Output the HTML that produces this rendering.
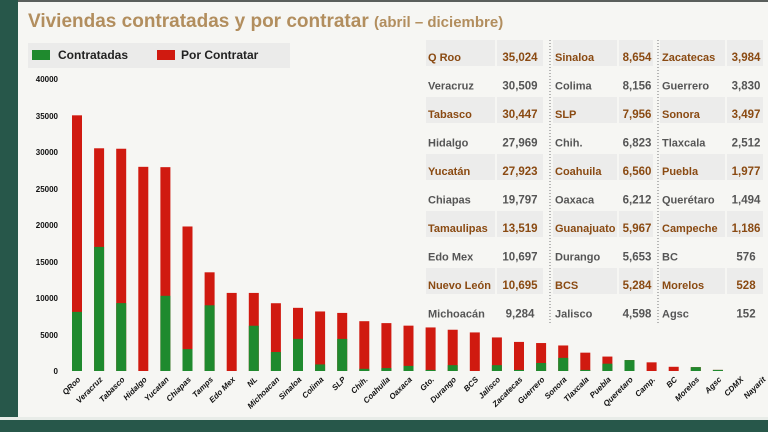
<!DOCTYPE html>
<html><head><meta charset="utf-8"><style>
html,body{margin:0;padding:0;width:768px;height:432px;overflow:hidden;background:#f6f6f3}
svg{display:block;font-family:"Liberation Sans","DejaVu Sans",sans-serif}
</style></head><body>
<svg width="768" height="432" viewBox="0 0 768 432" xmlns="http://www.w3.org/2000/svg">
<rect width="768" height="432" fill="#f6f6f3"/>
<rect x="0" y="0" width="768" height="2" fill="#5a5f5c"/>
<rect x="0" y="0" width="18" height="432" fill="#27574a"/>
<rect x="0" y="420" width="768" height="12" fill="#27574a"/>
<rect x="0" y="417" width="768" height="3" fill="#e8ece8"/>
<text x="28" y="27" font-size="19" font-weight="bold" fill="#b28e5e">Viviendas contratadas y por contratar <tspan font-size="15">(abril – diciembre)</tspan></text>
<rect x="28" y="43" width="262" height="25" fill="#ebebea"/>
<rect x="32" y="50" width="18" height="10" fill="#1f8a2e"/>
<text x="58" y="59" font-size="12" font-weight="bold" fill="#222">Contratadas</text>
<rect x="157" y="50" width="18" height="10" fill="#d01a10"/>
<text x="181" y="59" font-size="12" font-weight="bold" fill="#222">Por Contratar</text>
<g font-size="8" font-weight="bold" fill="#111" text-anchor="end">
<text x="58" y="82">40000</text><text x="58" y="119">35000</text><text x="58" y="155">30000</text><text x="58" y="192">25000</text><text x="58" y="228">20000</text><text x="58" y="265">15000</text><text x="58" y="301">10000</text><text x="58" y="338">5000</text><text x="58" y="374">0</text>
</g>
<g id="bars"></g>
<g id="labels" font-size="8" font-weight="bold" font-style="italic" fill="#111"></g>
<g id="tbl"></g>
<line x1="550" y1="40" x2="550" y2="325" stroke="#777" stroke-dasharray="1,2"/>
<line x1="658" y1="40" x2="658" y2="325" stroke="#777" stroke-dasharray="1,2"/>
<script>
var d=[["QRoo",35024,8100],["Veracruz",30509,17000],["Tabasco",30447,9300],["Hidalgo",27969,0],["Yucatan",27923,10300],["Chiapas",19797,3000],["Tamps",13519,9000],["Edo Mex",10697,0],["NL",10695,6200],["Michoacan",9284,2600],["Sinaloa",8654,4400],["Colima",8156,900],["SLP",7956,4400],["Chih.",6823,300],["Coahuila",6560,400],["Oaxaca",6212,700],["Gto.",5967,150],["Durango",5653,800],["BCS",5284,0],["Jalisco",4598,800],["Zacatecas",3984,150],["Guerrero",3830,1100],["Sonora",3497,1800],["Tlaxcala",2512,150],["Puebla",1977,1000],["Queretaro",1494,1494],["Camp.",1186,0],["BC",576,0],["Morelos",528,528],["Agsc",152,152],["CDMX",0,0],["Nayarit",0,0]];
var ns="http://www.w3.org/2000/svg",b=document.getElementById("bars"),l=document.getElementById("labels");
function el(t,a,p,tx){var e=document.createElementNS(ns,t);for(var k in a)e.setAttribute(k,a[k]);if(tx!=null)e.textContent=tx;p.appendChild(e);return e;}
var y0=371,s=292/40000;
d.forEach(function(r,i){var cx=77+i*22.1;var ht=r[1]*s,hg=r[2]*s;
if(ht>0)el("rect",{x:cx-5,y:y0-ht,width:10,height:ht,fill:"#d01a10"},b);
if(hg>0)el("rect",{x:cx-5,y:y0-hg,width:10,height:hg,fill:"#1f8a2e"},b);
el("text",{x:cx+4,y:380,"text-anchor":"end",transform:"rotate(-45 "+(cx+4)+" 380)"},l,r[0]);});
var g=[[["Q Roo","35,024"],["Veracruz","30,509"],["Tabasco","30,447"],["Hidalgo","27,969"],["Yucatán","27,923"],["Chiapas","19,797"],["Tamaulipas","13,519"],["Edo Mex","10,697"],["Nuevo León","10,695"],["Michoacán","9,284"]],
[["Sinaloa","8,654"],["Colima","8,156"],["SLP","7,956"],["Chih.","6,823"],["Coahuila","6,560"],["Oaxaca","6,212"],["Guanajuato","5,967"],["Durango","5,653"],["BCS","5,284"],["Jalisco","4,598"]],
[["Zacatecas","3,984"],["Guerrero","3,830"],["Sonora","3,497"],["Tlaxcala","2,512"],["Puebla","1,977"],["Querétaro","1,494"],["Campeche","1,186"],["BC","576"],["Morelos","528"],["Agsc","152"]]];
var geo=[[426,495,497,543,428,520],[553,617,619,653,555,637],[660,725,727,763,662,746]];
var t=document.getElementById("tbl");
g.forEach(function(c,j){var G=geo[j];c.forEach(function(r,i){var y=57+i*28.5;var hi=i%2==0;
if(hi){el("rect",{x:G[0],y:y-17,width:G[1]-G[0],height:26,fill:"#ececeb"},t);el("rect",{x:G[2],y:y-17,width:G[3]-G[2],height:26,fill:"#ececeb"},t);}
var col=hi?"#8a4a12":"#555";
el("text",{x:G[4],y:y+4,"font-size":"11","font-weight":"bold",fill:col},t,r[0]);
el("text",{x:G[5],y:y+4,"font-size":"11.5","font-weight":"bold",fill:col,"text-anchor":"middle"},t,r[1]);});});
</script>
</svg>
</body></html>
